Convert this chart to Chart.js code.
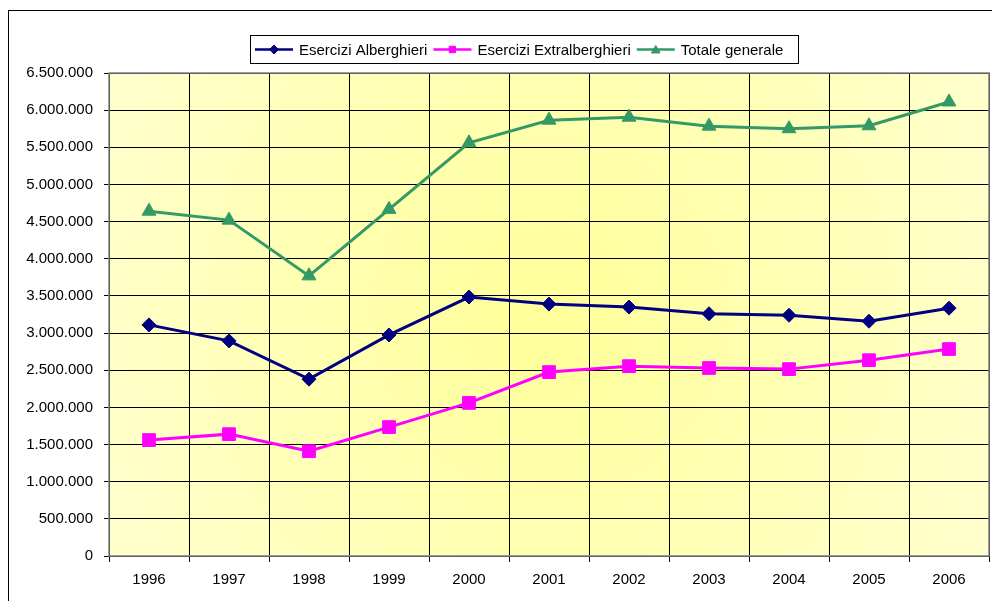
<!DOCTYPE html>
<html>
<head>
<meta charset="utf-8">
<script src="https://cdn.jsdelivr.net/npm/chart.js@4.4.0/dist/chart.umd.min.js"></script>
<style>
  html, body { margin: 0; padding: 0; background: #fff; }
  #wrap { width: 992px; height: 601px; position: relative; }
</style>
</head>
<body>
<div id="wrap"><canvas id="chart" width="992" height="601"></canvas></div>
<script>
// ── Dati ──
var anni = ['1996', '1997', '1998', '1999', '2000', '2001', '2002', '2003', '2004', '2005', '2006'];
var alberghieri = [3110000, 2895000, 2380000, 2975000, 3485000, 3390000, 3350000, 3260000, 3240000, 3160000, 3335000];
var extralberghieri = [1560000, 1640000, 1410000, 1735000, 2060000, 2475000, 2555000, 2530000, 2515000, 2635000, 2785000];
var totale = [4640000, 4520000, 3770000, 4665000, 5560000, 5865000, 5905000, 5785000, 5750000, 5790000, 6110000];
var yMax = 6500000, yStep = 500000;

var FONT = '"Liberation Sans", Arial, sans-serif';

function fmtNum(v) {
  return String(v).replace(/\B(?=(\d{3})+(?!\d))/g, '.');
}

// frame + sfondo a gradiente + legenda con riquadro
var decor = {
  id: 'decor',
  beforeDraw: function(chart) {
    var ctx = chart.ctx, a = chart.chartArea;
    ctx.save();
    ctx.fillStyle = '#fff';
    ctx.fillRect(0, 0, chart.width, chart.height);
    ctx.strokeStyle = '#000';
    ctx.lineWidth = 1;
    ctx.strokeRect(8.5, 10.5, 1000, 620);
    var cx = (a.left + a.right) / 2, cy = (a.top + a.bottom) / 2;
    var g = ctx.createRadialGradient(cx, cy, 0, cx, cy, 520);
    g.addColorStop(0, '#FFFF99');
    g.addColorStop(1, '#FFFFD0');
    ctx.fillStyle = g;
    ctx.fillRect(a.left, a.top, a.right - a.left, a.bottom - a.top);
    ctx.restore();
  },
  afterDraw: function(chart) {
    var ctx = chart.ctx, a = chart.chartArea;
    ctx.save();
    ctx.strokeStyle = '#808080';
    ctx.lineWidth = 1.5;
    ctx.strokeRect(a.left, a.top, a.right - a.left, a.bottom - a.top);

    // legenda
    var bx = 250.5, by = 35.5, bw = 548, bh = 28;
    ctx.strokeStyle = '#000';
    ctx.lineWidth = 1;
    ctx.fillStyle = '#fff';
    ctx.fillRect(bx, by, bw, bh);
    ctx.strokeRect(bx, by, bw, bh);
    ctx.font = '15px ' + FONT;
    ctx.textBaseline = 'middle';
    var x = 255, y = by + bh / 2;
    chart.data.datasets.forEach(function(ds) {
      ctx.strokeStyle = ds.borderColor;
      ctx.lineWidth = 2.5;
      ctx.beginPath();
      ctx.moveTo(x, y);
      ctx.lineTo(x + 38, y);
      ctx.stroke();
      ctx.fillStyle = ds.backgroundColor;
      ctx.lineWidth = 1;
      Chart.helpers.drawPoint(ctx, {
        pointStyle: ds.pointStyle,
        radius: ds.pointStyle === 'triangle' ? 5 : 4.5,
        borderWidth: 1
      }, x + 19, y + (ds.pointStyle === 'triangle' ? 1 : 0));
      ctx.fillStyle = '#000';
      ctx.fillText(ds.label, x + 44, y + 1);
      x += 44 + ctx.measureText(ds.label).width + 6;
    });
    ctx.restore();
  }
};

new Chart(document.getElementById('chart'), {
  type: 'line',
  data: {
    labels: anni,
    datasets: [
      {
        label: 'Esercizi Alberghieri',
        data: alberghieri,
        borderColor: '#000080',
        backgroundColor: '#000080',
        borderWidth: 3,
        pointStyle: 'rectRot',
        pointRadius: 7,
        pointBorderWidth: 1,
        tension: 0
      },
      {
        label: 'Esercizi Extralberghieri',
        data: extralberghieri,
        borderColor: '#FF00FF',
        backgroundColor: '#FF00FF',
        borderWidth: 3,
        pointStyle: 'rect',
        pointRadius: 9,
        pointBorderWidth: 1,
        tension: 0
      },
      {
        label: 'Totale generale',
        data: totale,
        borderColor: '#339966',
        backgroundColor: '#339966',
        borderWidth: 3,
        pointStyle: 'triangle',
        pointRadius: 8,
        pointBorderWidth: 1,
        tension: 0
      }
    ]
  },
  options: {
    responsive: false,
    animation: false,
    layout: { autoPadding: false, padding: { top: 73, left: 0, right: 3, bottom: 0 } },
    plugins: {
      legend: { display: false },
      tooltip: { enabled: false }
    },
    scales: {
      x: {
        offset: true,
        grid: { offset: true, color: '#000', lineWidth: 1, tickLength: 6, drawTicks: true },
        border: { display: false },
        ticks: { color: '#000', font: { family: FONT, size: 15 }, padding: 9, maxRotation: 0 },
        afterFit: function(s) {
          s.height = 45;
          s.paddingLeft = 0;
          s.paddingRight = 0;
        }
      },
      y: {
        min: 0,
        max: yMax,
        grid: { color: '#000', lineWidth: 1, tickLength: 5 },
        border: { display: false },
        ticks: {
          stepSize: yStep,
          color: '#000',
          font: { family: FONT, size: 15 },
          padding: 11,
          callback: function(v) { return fmtNum(v); }
        },
        afterFit: function(s) {
          s.width = 109;
          s.paddingTop = 0;
          s.paddingBottom = 0;
        }
      }
    }
  },
  plugins: [decor]
});
</script>
</body>
</html>
